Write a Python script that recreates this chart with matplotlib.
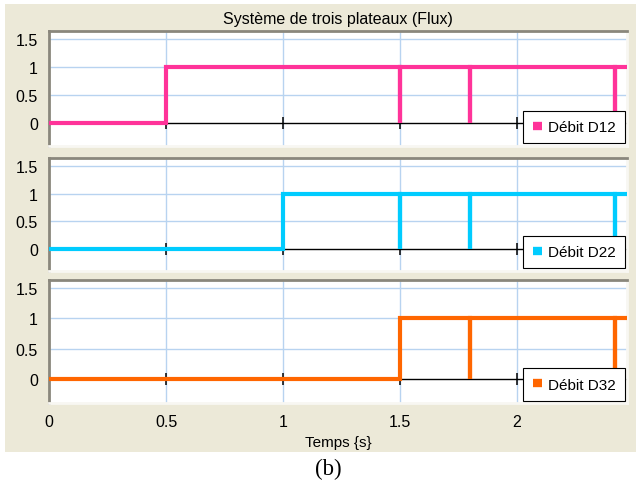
import matplotlib
matplotlib.use("Agg")
import matplotlib.pyplot as plt
from matplotlib.patches import Rectangle

# ---- data ----
t_d12 = [0, 0.5, 0.5, 1.5, 1.5, 1.5, 1.8, 1.8, 1.8, 2.42, 2.42, 2.42, 2.47]
v_d12 = [0, 0, 1, 1, 0, 1, 1, 0, 1, 1, 0, 1, 1]
t_d22 = [0, 1.0, 1.0, 1.5, 1.5, 1.5, 1.8, 1.8, 1.8, 2.42, 2.42, 2.42, 2.47]
v_d22 = [0, 0, 1, 1, 0, 1, 1, 0, 1, 1, 0, 1, 1]
t_d32 = [0, 1.5, 1.5, 1.8, 1.8, 1.8, 2.42, 2.42, 2.42, 2.47]
v_d32 = [0, 0, 1, 1, 0, 1, 1, 0, 1, 1]
labels = ["Débit D12", "Débit D22", "Débit D32"]
colors = ["#FF3399", "#00CCFF", "#FF6600"]
xticks = [0, 0.5, 1, 1.5, 2]
xtick_labels = ["0", "0.5", "1", "1.5", "2"]
yticks = [0, 0.5, 1, 1.5]
ytick_labels = ["0", "0.5", "1", "1.5"]
title = "Système de trois plateaux (Flux)"
xlabel = "Temps {s}"
caption = "(b)"

plt.rcParams['font.family'] = ['Liberation Sans', 'DejaVu Sans']

W, H = 636, 481
fig = plt.figure(figsize=(W / 100, H / 100), dpi=100)
fig.patch.set_facecolor("white")

# beige panel
fig.patches.append(Rectangle((5 / W, 1 - 452.5 / H), (W - 5) / W, (452.5 - 5) / H,
                             transform=fig.transFigure, facecolor="#ECE9D8",
                             edgecolor="none", zorder=-10))

series = [(t_d12, v_d12), (t_d22, v_d22), (t_d32, v_d32)]
# (top, bottom) pixel extents of each axes
extents = [(32.3, 146.7), (159.3, 271.7), (280.7, 404.0)]
left_px, right_px = 49, 627

axes = []
for i, ((tv, vv), (top, bot)) in enumerate(zip(series, extents)):
    ax = fig.add_axes([left_px / W, 1 - bot / H, (right_px - left_px) / W, (bot - top) / H])
    ax.set_facecolor("white")
    ax.set_xlim(0, 2.47)
    ax.set_ylim(-0.4, 1.64)
    for x in xticks[1:]:
        ax.axvline(x, color="#B8D3F0", lw=1.0, zorder=1)
    for y in yticks[1:]:
        ax.axhline(y, color="#B8D3F0", lw=1.0, zorder=1)
    ax.axhline(0, color="black", lw=1.0, zorder=2)
    ax.plot(xticks, [0] * len(xticks), linestyle="none", marker="|",
            markersize=8, color="black", markeredgewidth=1.1, zorder=2)
    ax.plot(tv, vv, color=colors[i], lw=3.0, solid_joinstyle="miter",
            solid_capstyle="butt", zorder=3, label=labels[i], clip_on=False)
    ax.set_yticks(yticks)
    ax.set_yticklabels(ytick_labels, fontsize=11.5)
    ax.set_xticks(xticks)
    if i == 2:
        ax.set_xticklabels(xtick_labels, fontsize=11.5)
        ax.set_xlabel(xlabel, fontsize=11, labelpad=4)
    else:
        ax.set_xticklabels([])
    ax.tick_params(axis="y", length=0, pad=8, colors="black")
    ax.tick_params(axis="x", length=0, pad=8, colors="black")
    ax.spines["top"].set_color("#8A877C")
    ax.spines["left"].set_color("#8A877C")
    ax.spines["top"].set_linewidth(2)
    ax.spines["left"].set_linewidth(2)
    ax.spines["bottom"].set_color("#F8F7F2")
    ax.spines["right"].set_color("#F8F7F2")
    ax.spines["bottom"].set_linewidth(2)
    ax.spines["right"].set_linewidth(2)
    leg = ax.legend(loc="lower right", fontsize=11, handlelength=0.6,
                    handletextpad=0.4, borderpad=0.6, borderaxespad=0.15,
                    fancybox=False, framealpha=1, edgecolor="black")
    leg.get_frame().set_linewidth(0.8)
    for ln in leg.get_lines():
        ln.set_linewidth(6)
    leg.set_zorder(5)
    axes.append(ax)

axes[0].set_title(title, fontsize=11.5, pad=6)
fig.text(328 / W, 1 - 469 / H, caption, ha="center", va="center",
         fontsize=16.5, family="Liberation Serif")

fig.savefig("out.png", dpi=100)
